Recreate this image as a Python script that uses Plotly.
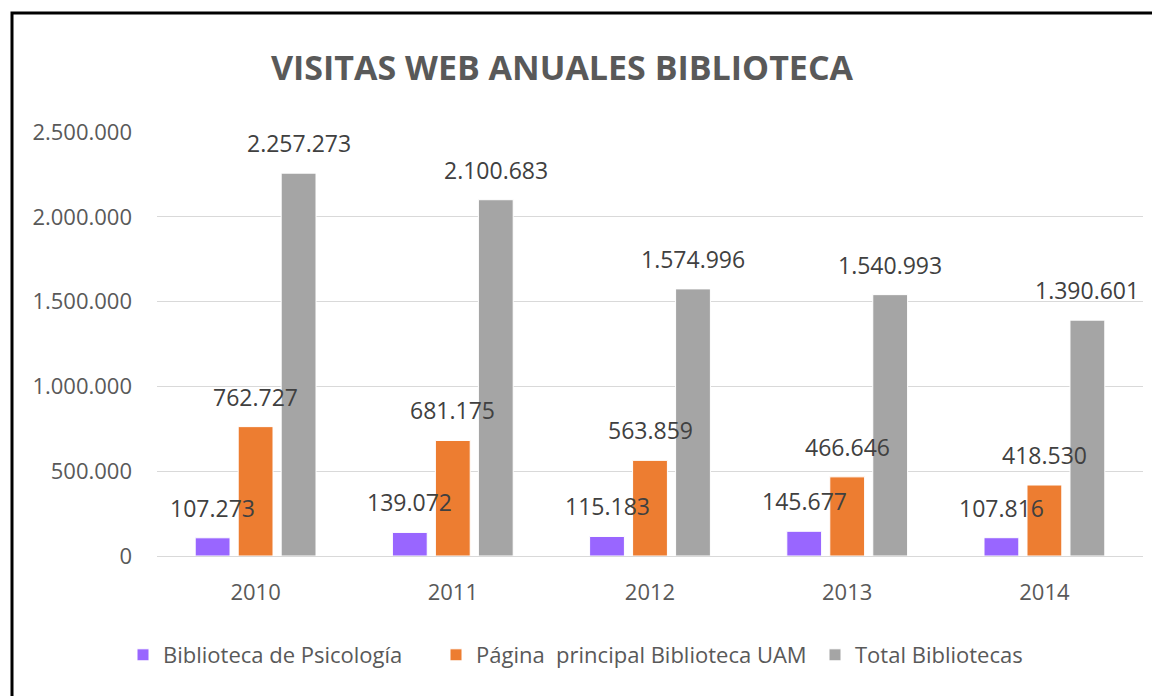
import plotly.graph_objects as go

years = ["2010", "2011", "2012", "2013", "2014"]
psicologia = [107273, 139072, 115183, 145677, 107816]
pagina_uam = [762727, 681175, 563859, 466646, 418530]
total_bib = [2257273, 2100683, 1574996, 1540993, 1390601]

series_names = ["Biblioteca de Psicología", "Página  principal Biblioteca UAM", "Total Bibliotecas"]
series_values = [psicologia, pagina_uam, total_bib]
series_colors = ["#9966FF", "#ED7D31", "#A5A5A5"]

FONT = "Open Sans"
OFF = 8  # page body margin in the browser
W, H = 1160 - OFF, 696 - OFF

def fx(px):  # reference pixel x -> figure pixel x
    return px - OFF

def fy(py):
    return py - OFF

ML, MT = fx(157), fy(132)
MR = W - fx(1143)
MB = H - fy(556)
BARGAP, GROUPGAP = 0.346, 0.19
plot_w = W - ML - MR
plot_h = H - MT - MB

def fmt(v):
    return f"{v:,}".replace(",", ".")

fig = go.Figure()
legend_ids = ["legend", "legend2", "legend3"]
for i, (name, vals, col) in enumerate(zip(series_names, series_values, series_colors)):
    fig.add_trace(go.Bar(
        x=years, y=vals, name=name,
        marker=dict(color=col, line=dict(color="white", width=1)),
        legend=legend_ids[i],
        hovertemplate="%{x}: %{y}<extra>" + name + "</extra>",
    ))

# data labels as annotations above bars (x given as category index)
slot = plot_w / len(years) * (1 - BARGAP) / 3
for i, vals in enumerate(series_values):
    for j, v in enumerate(vals):
        fig.add_annotation(
            x=j, y=v, xref="x", yref="y", text=fmt(v), showarrow=False,
            xshift=(i - 1) * slot, yshift=30, yanchor="middle",
            font=dict(family=FONT, size=23, color="#404040"),
        )

# legend positions (reference pixel x of each item's left edge)
leg_px = [123, 436, 815]
legend_cfg = {}
for lid, px in zip(legend_ids, leg_px):
    legend_cfg[lid] = dict(
        orientation="h", x=(fx(px) - ML) / plot_w, xanchor="left",
        y=-(fy(655) - (H - MB)) / plot_h, yanchor="middle",
        font=dict(family=FONT, size=22, color="#595959"),
        bgcolor="rgba(0,0,0,0)", borderwidth=0,
    )

fig.update_layout(
    width=W, height=H,
    margin=dict(l=ML, r=MR, t=MT, b=MB, pad=0),
    paper_bgcolor="white", plot_bgcolor="white",
    separators=",.",
    barmode="group", bargap=BARGAP, bargroupgap=GROUPGAP,
    title=dict(
        text="<b>VISITAS WEB ANUALES BIBLIOTECA</b>",
        x=fx(562) / W, xanchor="center", y=1 - fy(68) / H, yanchor="middle",
        font=dict(family=FONT, size=34, color="#595959"),
    ),
    xaxis=dict(
        type="category", range=[-0.5, len(years) - 0.5],
        showgrid=False, showline=False, ticks="",
        tickfont=dict(family=FONT, size=22, color="#595959"),
        ticklabelstandoff=21,
    ),
    yaxis=dict(
        range=[0, 2500000], tickvals=[0, 500000, 1000000, 1500000, 2000000, 2500000],
        tickformat=",.0f", showgrid=True, gridcolor="#D9D9D9", gridwidth=1,
        zeroline=True, zerolinecolor="#D9D9D9", zerolinewidth=1,
        showline=False, ticks="",
        tickfont=dict(family=FONT, size=22, color="#595959"),
        ticklabelstandoff=24,
    ),
    showlegend=True,
    **legend_cfg,
)

# outer border of the chart picture (left and top visible)
fig.add_shape(
    type="rect", xref="paper", yref="paper",
    x0=(fx(12) - ML) / plot_w, x1=(W + 20 - ML) / plot_w,
    y0=-(H + 20 - (H - MB)) / plot_h, y1=1 + (MT - fy(13)) / plot_h,
    line=dict(color="black", width=3), fillcolor="rgba(0,0,0,0)", layer="above",
)

fig.write_html("out.html")
